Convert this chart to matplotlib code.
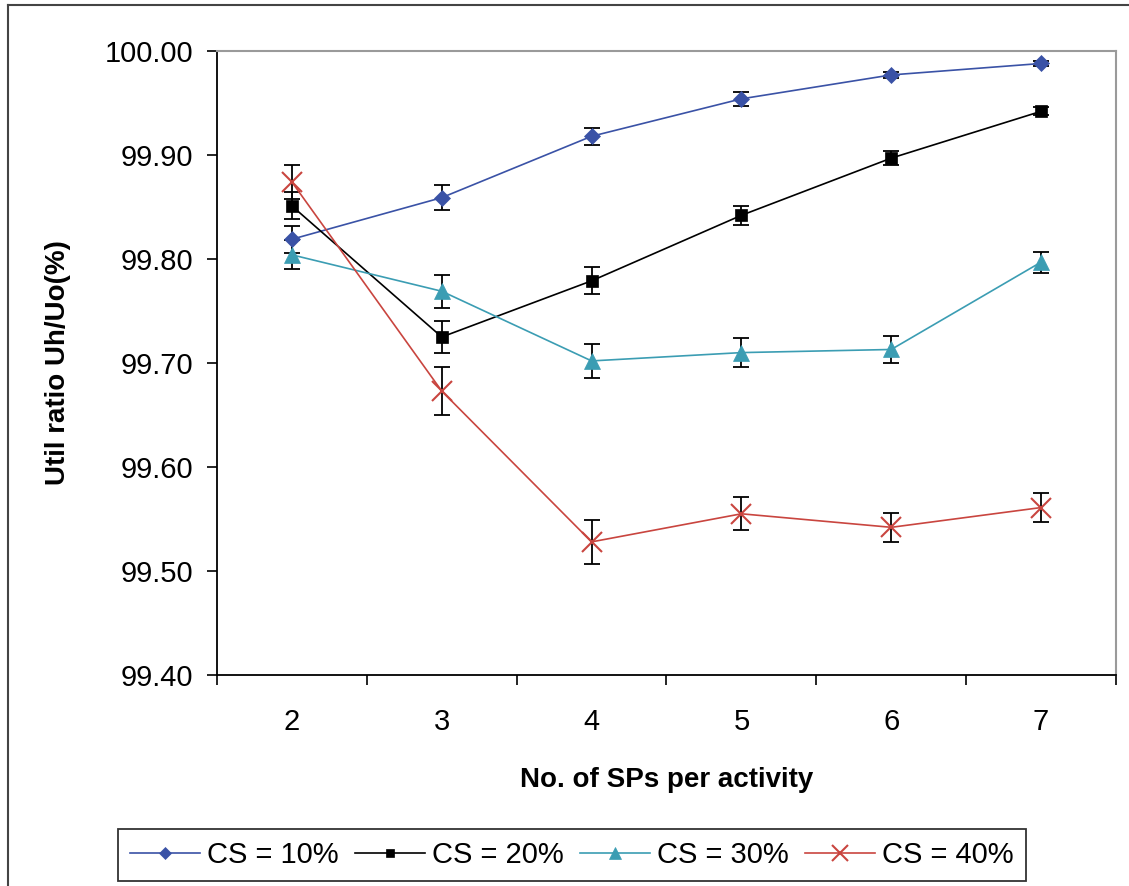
import numpy as np
import matplotlib.pyplot as plt
from matplotlib.lines import Line2D

plt.rcParams['font.family'] = ['Liberation Sans', 'DejaVu Sans']

sps = [2, 3, 4, 5, 6, 7]
labels = ['CS = 10%', 'CS = 20%', 'CS = 30%', 'CS = 40%']

cs10 = [99.819, 99.859, 99.918, 99.954, 99.977, 99.988]
cs20 = [99.851, 99.725, 99.779, 99.842, 99.897, 99.942]
cs30 = [99.804, 99.769, 99.702, 99.710, 99.713, 99.797]
cs40 = [99.874, 99.673, 99.528, 99.555, 99.542, 99.561]

err10 = [0.013, 0.012, 0.008, 0.007, 0.003, 0.002]
err20 = [0.013, 0.015, 0.013, 0.009, 0.007, 0.004]
err30 = [0.014, 0.016, 0.016, 0.014, 0.013, 0.010]
err40 = [0.016, 0.023, 0.021, 0.016, 0.014, 0.014]

series = [cs10, cs20, cs30, cs40]
errs = [err10, err20, err30, err40]
colors = ['#3A52A6', '#000000', '#3B9DB3', '#C9453F']
markers = ['D', 's', '^', 'x']
msizes = [8, 8.5, 12, 15]

fig = plt.figure(figsize=(11.29, 8.86), dpi=100)
ax = fig.add_axes([217/1129, 1-675/886, (1116-217)/1129, (675-51)/886])

for y, e, c, m, ms, lab in zip(series, errs, colors, markers, msizes, labels):
    ax.errorbar(sps, y, yerr=e, fmt='none', ecolor='black', elinewidth=1.3,
                capsize=5.5, capthick=1.3, zorder=2)
    ax.plot(sps, y, color=c, marker=m, markersize=ms, lw=1.2,
            markeredgewidth=1.5 if m == 'x' else 0.5, markeredgecolor=c,
            label=lab, zorder=3)

ax.set_xlim(1.5, 7.5)
ax.set_ylim(99.40, 100.00)
ax.set_yticks(np.arange(99.40, 100.001, 0.1))
ax.set_yticklabels([f'{v:.2f}' for v in np.arange(99.40, 100.001, 0.1)])
ax.set_xticks(sps)
ax.set_xticks(np.arange(1.5, 7.6, 1.0), minor=True)
ax.tick_params(axis='x', which='major', length=0, pad=24, labelsize=21)
ax.tick_params(axis='x', which='minor', length=7, width=1.2, direction='out')
ax.tick_params(axis='y', length=7, width=1.2, direction='out', pad=10, labelsize=21)

for s in ['top', 'right']:
    ax.spines[s].set_color('#9a9a9a')
    ax.spines[s].set_linewidth(1.5)
for s in ['left', 'bottom']:
    ax.spines[s].set_color('black')
    ax.spines[s].set_linewidth(1.3)

ax.set_xlabel('No. of SPs per activity', fontsize=20, fontweight='bold', labelpad=22)
ax.set_ylabel('Util ratio Uh/Uo(%)', fontsize=20, fontweight='bold', labelpad=24)

# outer chart frame (left and top edges visible)
fig.add_artist(Line2D([8/1129, 8/1129], [0, 1-5/886], color='#444444', lw=1.5))
fig.add_artist(Line2D([8/1129, 1], [1-5/886, 1-5/886], color='#444444', lw=1.5))

leg = fig.legend(loc='center', bbox_to_anchor=(572/1129, 1-855/886), ncol=4,
                 fontsize=21, frameon=True, fancybox=False, handlelength=2.4,
                 handletextpad=0.25, columnspacing=0.55, borderpad=0.4,
                 borderaxespad=0, markerscale=0.75)
leg.get_frame().set_edgecolor('black')
leg.get_frame().set_linewidth(1.3)

fig.savefig('out.png', dpi=100)
